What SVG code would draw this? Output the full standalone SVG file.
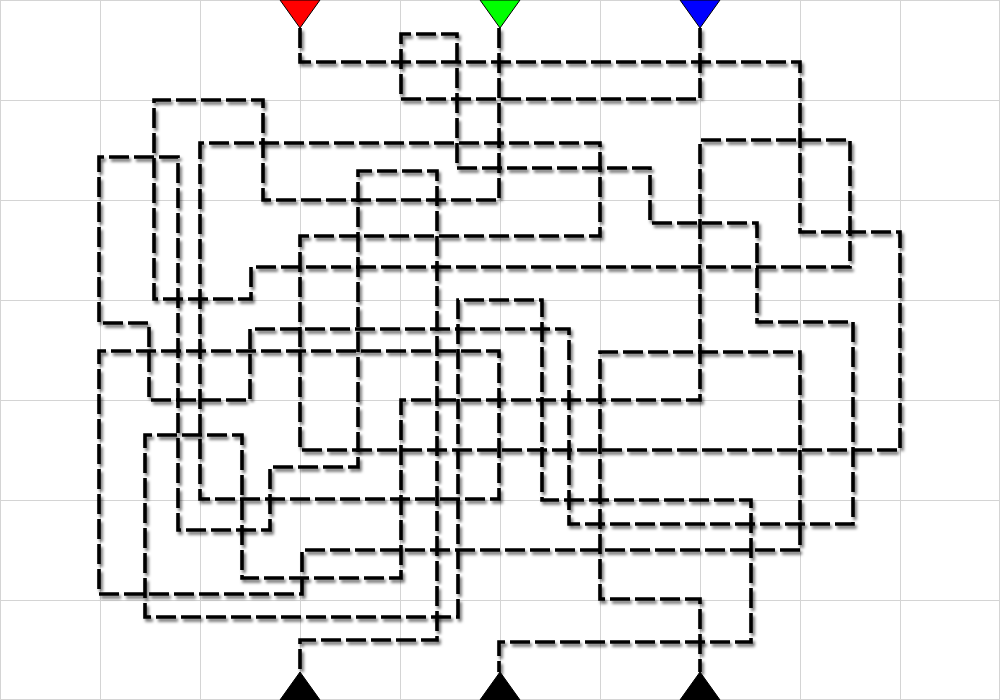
<svg xmlns="http://www.w3.org/2000/svg" width="1000" height="700" viewBox="0 0 1000 700">
  <defs>
    <filter id="shadow" x="-5%" y="-5%" width="110%" height="110%">
      <feDropShadow dx="2" dy="3" stdDeviation="1.6" flood-color="#000" flood-opacity="0.55"/>
    </filter>
  </defs>
  <style>
    .grid { stroke: #d4d4d4; stroke-width: 1; fill: none; }
    .wire { fill: none; stroke: #000; stroke-width: 3.6; stroke-dasharray: 20 5; stroke-linejoin: miter; filter: url(#shadow); }
    .tri { stroke: #000; stroke-width: 1; }
  </style>
  <rect width="1000" height="700" fill="#fff"/>
  <g id="grid">
    <path class="grid" d="M0.5,0 V700 M100.5,0 V700 M200.5,0 V700 M300.5,0 V700 M400.5,0 V700 M500.5,0 V700 M600.5,0 V700 M700.5,0 V700 M800.5,0 V700 M900.5,0 V700 M999.5,0 V700 M0,0.5 H1000 M0,100.5 H1000 M0,200.5 H1000 M0,300.5 H1000 M0,400.5 H1000 M0,500.5 H1000 M0,600.5 H1000 M0,699.5 H1000"/>
  </g>
  <g id="connectors">
    <path id="path-red" class="wire" d="M300,28 V62 H800 V232 H900 V450 H300 V236 H600 V143 H200 V499 H499 V351 H99 V594 H302 V550 H800 V352 H600 V599 H700 V672"/>
    <path id="path-green" class="wire" d="M499,28 V200 H263 V100 H154 V299 H251 V267 H850 V140 H700 V400 H401 V578 H242 V435 H145 V617 H458 V300 H542 V500 H751 V642 H499 V672"/>
    <path id="path-blue" class="wire" d="M700,28 V99 H401 V34 H457 V168 H650 V223 H757 V322 H853 V524 H569 V329 H250 V400 H149 V323 H99 V157 H178 V530 H270 V467 H358 V171 H437 V640 H300 V672"/>
  </g>
  <g id="start-red"><polygon class="tri" points="280,0 320,0 300,28" fill="#ff0000"/></g>
  <g id="start-green"><polygon class="tri" points="480,0 520,0 500,28" fill="#00ff00"/></g>
  <g id="start-blue"><polygon class="tri" points="680,0 720,0 700,28" fill="#0000ff"/></g>
  <g id="end-left"><polygon class="tri" points="280,700 320,700 300,672" fill="#000"/></g>
  <g id="end-middle"><polygon class="tri" points="480,700 520,700 500,672" fill="#000"/></g>
  <g id="end-right"><polygon class="tri" points="680,700 720,700 700,672" fill="#000"/></g>
</svg>
